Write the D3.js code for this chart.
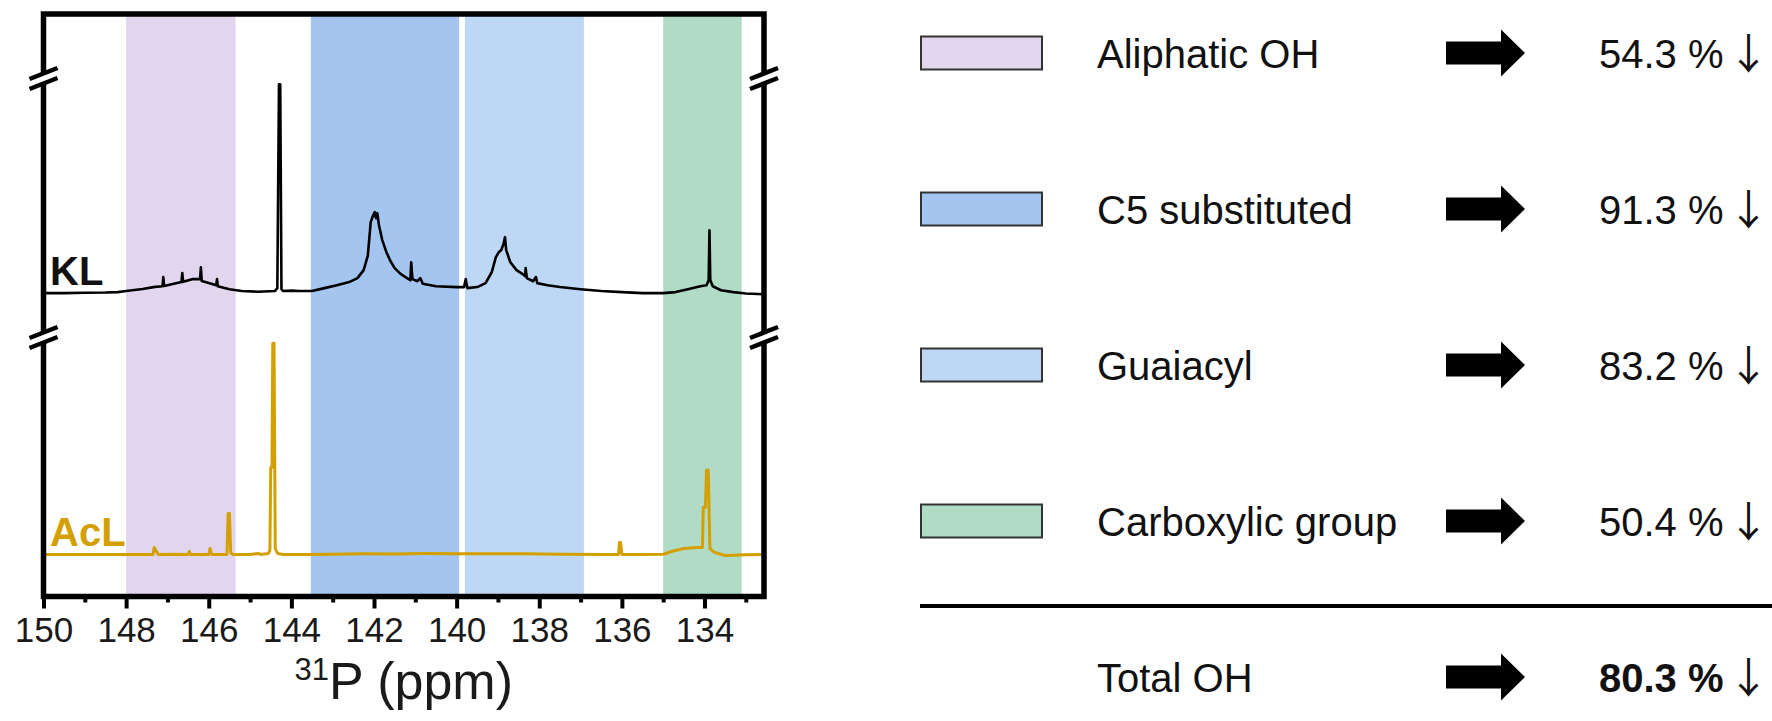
<!DOCTYPE html>
<html>
<head>
<meta charset="utf-8">
<script src="https://cdn.jsdelivr.net/npm/d3@7"></script>
<style>
  body { margin: 0; background: #fff; }
  svg { display: block; font-family: "Liberation Sans", Arial, sans-serif; }
</style>
</head>
<body>
<svg id="chart"></svg>
<script>
// ---- data ----
const bandNames = ['Aliphatic OH', 'C5 substituted', 'Guaiacyl', 'Carboxylic group'];
const bandFrom = [148.0, 143.53, 139.80, 135.0];
const bandTo = [145.35, 139.94, 136.92, 133.10];
const bandColors = ['#e2d6ee', '#a4c5f0', '#bed7f4', '#b0dcc6'];
const reductions = [54.3, 91.3, 83.2, 50.4];
const totalReduction = 80.3;

const majorTicks = [150, 148, 146, 144, 142, 140, 138, 136, 134];
const minorTicks = [149, 147, 145, 143, 141, 139, 137, 135, 133];

// [ppm, intensity]
const klPoints = [
  [150, 0], [149.5, 0], [149, 0.2], [148.5, 0.3], [148.2, 0.5], [148, 1], [147.6, 2], [147.3, 3],
  [147.12, 3.3], [147.1, 7.7], [147.08, 3.4], [146.9, 4.3], [146.66, 5.3], [146.64, 9.6], [146.62, 5.4],
  [146.4, 6.7], [146.21, 6.7], [146.19, 12.4], [146.17, 5.8], [146.0, 4.8], [145.82, 3.8], [145.8, 6.7],
  [145.78, 3.3], [145.5, 1.9], [145.2, 1], [144.8, 0.7], [144.4, 1], [144.34, 2.4], [144.3, 100],
  [144.27, 100], [144.24, 1.9], [144.2, 1], [144.0, 1.2], [143.8, 1], [143.5, 1], [143.2, 2.4],
  [142.9, 3.8], [142.6, 5.3], [142.4, 7.2], [142.25, 11], [142.15, 18], [142.08, 34], [142.02, 37.3],
  [141.98, 38.8], [141.95, 35.9], [141.92, 38.3], [141.88, 32.5], [141.8, 25.4], [141.7, 19.6],
  [141.6, 15.3], [141.5, 12], [141.35, 9.1], [141.2, 7.2], [141.12, 6.2], [141.1, 14.8], [141.07, 6.7],
  [140.95, 5.7], [140.88, 7.2], [140.82, 4.5], [140.5, 3.3], [140.0, 2.9], [139.82, 2.9], [139.78, 6.7],
  [139.74, 2.4], [139.5, 2.9], [139.3, 4.8], [139.15, 10], [139.05, 17.2], [138.98, 19.6], [138.92, 20.6],
  [138.86, 23.9], [138.83, 26.8], [138.8, 20.6], [138.7, 14.8], [138.55, 11], [138.4, 9.1], [138.34, 8.1],
  [138.33, 12], [138.3, 7.2], [138.15, 5.7], [138.08, 7.7], [138.05, 4.8], [137.8, 3.8], [137.5, 2.9],
  [137.0, 1.9], [136.5, 1], [136.0, 0.5], [135.5, 0], [135.0, 0], [134.7, 0.5], [134.4, 1.9], [134.1, 3.3],
  [133.95, 3.8], [133.9, 6.2], [133.88, 30.1], [133.86, 6.2], [133.8, 3.3], [133.6, 1.4], [133.3, 0.5],
  [133.0, -0.2], [132.56, -0.5]
];

// [ppm, intensity]
const aclPoints = [
  [150, -0.9], [149, -0.9], [148, -0.9], [147.35, -0.9], [147.32, 2.4], [147.28, 1], [147.22, -0.9],
  [146.9, -0.8], [146.5, -0.9], [146.47, 0.5], [146.44, -0.9], [146.0, -0.9], [145.97, 1.9], [145.93, -0.9],
  [145.56, -0.9], [145.53, 18.7], [145.5, 18.7], [145.47, 0], [145.42, -0.9], [145.0, -0.9], [144.8, -0.4],
  [144.75, -0.9], [144.56, -0.5], [144.52, 1], [144.5, 40.7], [144.47, 40.7], [144.45, 100], [144.42, 100],
  [144.39, 1.9], [144.33, -0.5], [144.2, -0.9], [143.6, -0.9], [143.0, -0.8], [142.3, -0.6], [141.5, -0.7],
  [140.8, -0.5], [140, -0.6], [139.2, -0.6], [138.4, -0.6], [137.5, -0.8], [136.5, -0.9], [136.08, -0.9],
  [136.06, 4.8], [136.03, 4.8], [136.0, -0.9], [135.5, -0.9], [135.0, -0.8], [134.8, 0.5], [134.5, 1.9],
  [134.2, 2.4], [134.05, 2.4], [134.03, 21.5], [133.98, 21.5], [133.95, 39.3], [133.91, 39.3],
  [133.87, 1.9], [133.75, 0], [133.5, -1.4], [133.0, -1], [132.56, -0.9]
];

// ---- layout ----
const W = 1772, H = 721;
const plot = { left: 43.5, right: 764, top: 14, bottom: 596.5 };
const breaks = [78, 337];
const font = '"Liberation Sans", Arial, sans-serif';

const svg = d3.select('#chart').attr('width', W).attr('height', H);

const x = d3.scaleLinear().domain([150, 132.56]).range([plot.left, plot.right]);

// each trace lives in its own segment of the broken y axis
const yKL = d3.scaleLinear().domain([-21, 103]).range([breaks[1], breaks[0]]);
const yAcL = d3.scaleLinear().domain([-21, 103]).range([plot.bottom, breaks[1]]);

// shaded regions
svg.append('g').selectAll('rect')
  .data(bandNames.map((n, i) => ({ name: n, from: bandFrom[i], to: bandTo[i], color: bandColors[i] })))
  .join('rect')
  .attr('x', d => x(d.from))
  .attr('width', d => x(d.to) - x(d.from))
  .attr('y', plot.top)
  .attr('height', plot.bottom - plot.top)
  .attr('fill', d => d.color);

// spectra
const lineKL = d3.line().x(d => x(d[0])).y(d => yKL(d[1]));
const lineAcL = d3.line().x(d => x(d[0])).y(d => yAcL(d[1]));

svg.append('path')
  .datum(aclPoints)
  .attr('d', lineAcL)
  .attr('fill', 'none')
  .attr('stroke', '#d4a000')
  .attr('stroke-width', 3)
  .attr('stroke-linejoin', 'round');

svg.append('path')
  .datum(klPoints)
  .attr('d', lineKL)
  .attr('fill', 'none')
  .attr('stroke', '#000')
  .attr('stroke-width', 2.6)
  .attr('stroke-linejoin', 'round');

// x axis: major + minor ticks
const xAxisG = svg.append('g')
  .attr('transform', `translate(0,${plot.bottom})`)
  .call(d3.axisBottom(x).tickValues(majorTicks).tickSize(12).tickPadding(9).tickFormat(d3.format('d')));
xAxisG.select('.domain').remove();
xAxisG.selectAll('line').attr('stroke', '#000').attr('stroke-width', 4);
xAxisG.selectAll('text')
  .attr('font-family', font)
  .attr('font-size', 35)
  .attr('fill', '#1a1a1a');

const minorG = svg.append('g')
  .attr('transform', `translate(0,${plot.bottom})`)
  .call(d3.axisBottom(x).tickValues(minorTicks).tickSize(6).tickFormat(''));
minorG.select('.domain').remove();
minorG.selectAll('line').attr('stroke', '#000').attr('stroke-width', 4);

// frame
svg.append('rect')
  .attr('x', plot.left)
  .attr('y', plot.top)
  .attr('width', plot.right - plot.left)
  .attr('height', plot.bottom - plot.top)
  .attr('fill', 'none')
  .attr('stroke', '#000')
  .attr('stroke-width', 5.5);

// axis break marks on both sides
const breakMarks = [];
breaks.forEach(b => [plot.left, plot.right].forEach(ax => breakMarks.push({ ax, b })));
const bm = svg.append('g').selectAll('g').data(breakMarks).join('g')
  .attr('transform', d => `translate(${d.ax},${d.b})`);
bm.append('polygon')
  .attr('points', '-14,2 14,-9 14,1 -14,12')
  .attr('fill', '#fff');
bm.append('line').attr('x1', -14).attr('y1', 1).attr('x2', 14).attr('y2', -10)
  .attr('stroke', '#000').attr('stroke-width', 4.5);
bm.append('line').attr('x1', -14).attr('y1', 11).attr('x2', 14).attr('y2', 0)
  .attr('stroke', '#000').attr('stroke-width', 4.5);

// trace labels
svg.append('text')
  .attr('x', 50).attr('y', 285)
  .attr('font-family', font).attr('font-size', 40).attr('font-weight', 'bold')
  .attr('fill', '#111')
  .text('KL');
svg.append('text')
  .attr('x', 50).attr('y', 546)
  .attr('font-family', font).attr('font-size', 40).attr('font-weight', 'bold')
  .attr('fill', '#d4a000')
  .text('AcL');

// x axis title
const xTitle = svg.append('text')
  .attr('x', (plot.left + plot.right) / 2)
  .attr('y', 699)
  .attr('text-anchor', 'middle')
  .attr('font-family', font)
  .attr('fill', '#1a1a1a');
xTitle.append('tspan').attr('font-size', 31).attr('dy', -19).text('31');
xTitle.append('tspan').attr('font-size', 52).attr('dy', 19).text('P (ppm)');

// ---- legend / summary table ----
const rowY = d3.scaleLinear().domain([0, 4]).range([53, 677]);
const legendRows = bandNames.map((n, i) => ({ name: n, color: bandColors[i], value: reductions[i], i }));
legendRows.push({ name: 'Total OH', color: null, value: totalReduction, i: 4, bold: true });

const rows = svg.append('g').selectAll('g').data(legendRows).join('g')
  .attr('transform', d => `translate(0,${rowY(d.i)})`);

rows.filter(d => d.color)
  .append('rect')
  .attr('x', 921).attr('y', -16.5)
  .attr('width', 121).attr('height', 33)
  .attr('fill', d => d.color)
  .attr('stroke', '#333')
  .attr('stroke-width', 2);

rows.append('text')
  .attr('x', 1097).attr('y', 14.5)
  .attr('font-family', font).attr('font-size', 40)
  .attr('fill', '#111')
  .text(d => d.name);

// block arrows
rows.append('polygon')
  .attr('points', '1446,-11.5 1501,-11.5 1501,-23.5 1525,0 1501,23.5 1501,11.5 1446,11.5')
  .attr('fill', '#000');

rows.append('text')
  .attr('x', 1599).attr('y', 14.5)
  .attr('font-family', font).attr('font-size', 40)
  .attr('font-weight', d => d.bold ? 'bold' : 'normal')
  .attr('fill', '#111')
  .text(d => `${d3.format('.1f')(d.value)} %`);

// thin down arrow after each value
rows.append('text')
  .attr('x', 1748.5).attr('y', 16)
  .attr('text-anchor', 'middle')
  .attr('font-family', '"Noto Sans CJK SC", "DejaVu Sans", sans-serif')
  .attr('font-size', 42)
  .attr('fill', '#111')
  .text('\u2193');

// separator above the total row
svg.append('line')
  .attr('x1', 920).attr('x2', W)
  .attr('y1', 606).attr('y2', 606)
  .attr('stroke', '#000')
  .attr('stroke-width', 4);
</script>
</body>
</html>
